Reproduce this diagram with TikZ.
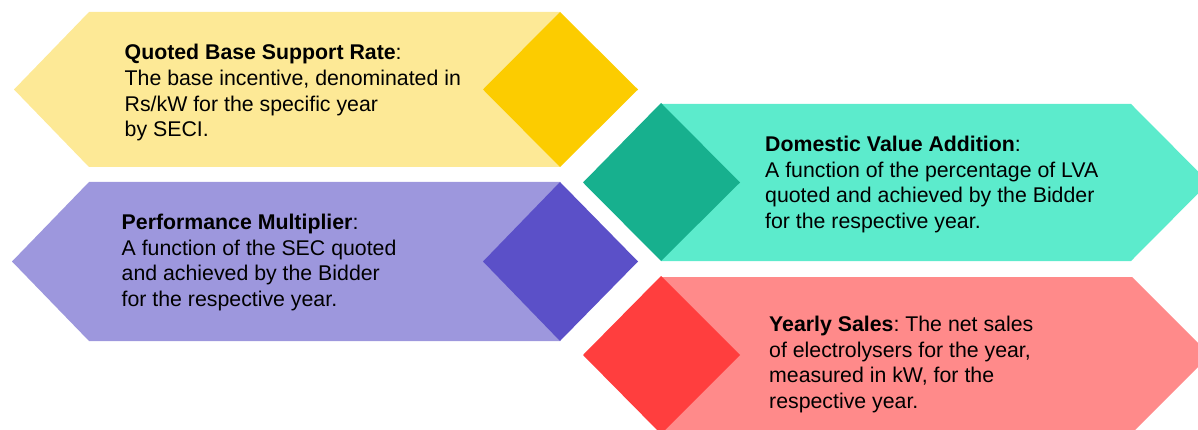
\documentclass[tikz,border=0pt]{standalone}
\usepackage{fontspec}
\setmainfont{Liberation Sans}
\frenchspacing
\definecolor{ylight}{RGB}{253,233,150}
\definecolor{ydark}{RGB}{252,204,0}
\definecolor{plight}{RGB}{157,151,221}
\definecolor{pdark}{RGB}{91,80,200}
\definecolor{tlight}{RGB}{92,235,204}
\definecolor{tdark}{RGB}{23,176,142}
\definecolor{rlight}{RGB}{255,138,138}
\definecolor{rdark}{RGB}{255,62,62}
\tikzset{
  desc/.style={anchor=base west, inner sep=0pt, align=left, text=black,
    font=\fontsize{21.3}{25.7}\selectfont\frenchspacing}
}
\begin{document}
\begin{tikzpicture}[x=1pt,y=-1pt]
\useasboundingbox (0,0) rectangle (1198,430);
\clip (0,0) rectangle (1198,430);
% Quoted Base Support Rate
\fill[ylight] (14,89.5) -- (89,12) -- (560,12) -- (560,167) -- (89,167) -- cycle;
\fill[ydark] (483,89.5) -- (560,12) -- (638,89.5) -- (560,167) -- cycle;
% Performance Multiplier
\fill[plight] (12,261.5) -- (89,182) -- (560,182) -- (560,341) -- (89,341) -- cycle;
\fill[pdark] (483,261.5) -- (560,182) -- (638,261.5) -- (560,341) -- cycle;
% Domestic Value Addition
\fill[tlight] (661,104) -- (1131,104) -- (1209,182.5) -- (1131,261) -- (661,261) -- cycle;
\fill[tdark] (583,182.5) -- (661,103) -- (740,182.5) -- (661,261) -- cycle;
% Yearly Sales
\fill[rlight] (661,277) -- (1132,277) -- (1210,355) -- (1132,433) -- (661,433) -- cycle;
\fill[rdark] (583,355) -- (661,276) -- (740,355) -- (661,434) -- cycle;
% texts (anchor at the baseline of the last line)
\node[desc] (tq) at (124.5,137) {\textbf{Quoted Base Support Rate}:\\The base incentive, denominated in\\Rs/kW for the specific year\\by SECI.};
\node[desc] (tp) at (121.5,306.5) {\textbf{Performance Multiplier}:\\A function of the SEC quoted\\and achieved by the Bidder\\for the respective year.};
\node[desc] (td) at (765,228.5) {\textbf{Domestic Value Addition}:\\A function of the percentage of LVA\\quoted and achieved by the Bidder\\for the respective year.};
\node[desc] (ty) at (769,408.5) {\textbf{Yearly Sales}: The net sales\\of electrolysers for the year,\\measured in kW, for the\\respective year.};
\end{tikzpicture}
\end{document}
